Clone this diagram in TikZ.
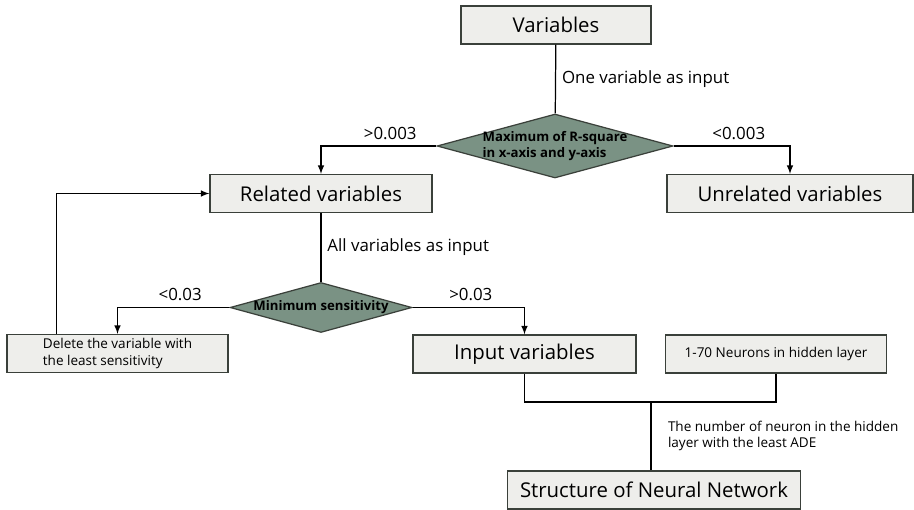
\documentclass[tikz,border=0pt]{standalone}
\usepackage{fontspec}
\setmainfont{Open Sans}
\usetikzlibrary{shapes.geometric}
\definecolor{boxfill}{RGB}{238,238,235}
\definecolor{boxline}{RGB}{58,64,58}
\definecolor{diafill}{RGB}{122,146,132}

\begin{document}
\begin{tikzpicture}[x=0.02cm, y=-0.02cm]
 \tikzset{box/.style={draw=boxline, fill=boxfill, line width=0.7pt, minimum height=0.76cm, inner sep=2pt, font=\fontsize{11.6}{13}\selectfont},
   smallbox/.style={box, font=\fontsize{7.7}{9.2}\selectfont},
   decision/.style={diamond, draw=boxline, fill=diafill, line width=0.7pt, inner sep=0pt},
   dtext/.style={font=\fontsize{7.5}{9}\selectfont\bfseries, align=left, inner sep=0pt},
   note/.style={font=\fontsize{9.6}{11}\selectfont},
   smallnote/.style={font=\fontsize{7.7}{9}\selectfont, align=left},
   arrow/.style={->, >=latex}}
  \useasboundingbox (0,0) rectangle (914,510);
  \node[box, minimum width=3.8cm] (Variables) at (556,25) {Variables};
  \node[decision, minimum width=4.72cm, minimum height=1.28cm,
        label={[dtext]center:{Maximum of R-square\\in x-axis and y-axis}}] (MaxR) at (555,146) {};
  \node[box, minimum width=4.44cm] (Related) at (321,193.5) {Related variables};
  \node[box, minimum width=4.92cm] (Unrelated) at (790,193.5) {Unrelated variables};
  \node[decision, minimum width=3.64cm, minimum height=1cm,
        label={[dtext]center:{Minimum sensitivity}}] (MinSens) at (321,307.5) {};
  \node[smallbox, minimum width=4.42cm, align=left] (Delete) at (117.5,353.5) {Delete the variable with\\the least sensitivity};
  \node[box, minimum width=4.46cm] (Input) at (524.5,354) {Input variables};
  \node[smallbox, minimum width=4.42cm] (Neurons) at (776,354) {1-70 Neurons in hidden layer};
  \node[box, minimum width=5.86cm] (Structure) at (654,490) {Structure of Neural Network};
  \coordinate (Join) at (651,402);

  \draw[line width=0.7pt] (Variables) -- (MaxR) node[midway, right, note] {One variable as input};
  \draw[arrow, line width=0.7pt] (MaxR.west) -| (Related.north) node[pos=0.2, above, note] {>0.003};
  \draw[arrow, line width=0.7pt] (MaxR.east) -| (Unrelated.north) node[pos=0.28, above, note] {<0.003};
  \draw[line width=0.7pt] (Related) -- (MinSens) node[midway, right, note] {All variables as input};
  \draw[arrow, line width=0.7pt] (MinSens.west) -| (Delete.north) node[pos=0.22, above, note] {<0.03};
  \draw[arrow, line width=0.7pt] (MinSens.east) -| (Input.north) node[pos=0.26, above, note] {>0.03};
  \draw[arrow, line width=0.7pt] ([xshift=1cm]Delete.north west) |- (Related.west);
  \draw[line width=0.7pt] (Input.south) |- (Join) -| (Neurons.south);
  \draw[line width=0.7pt] (Join) -- (Join |- Structure.north)
    node[midway, right, smallnote, xshift=6pt] {The number of neuron in the hidden\\layer with the least ADE};
\end{tikzpicture}
\end{document}
